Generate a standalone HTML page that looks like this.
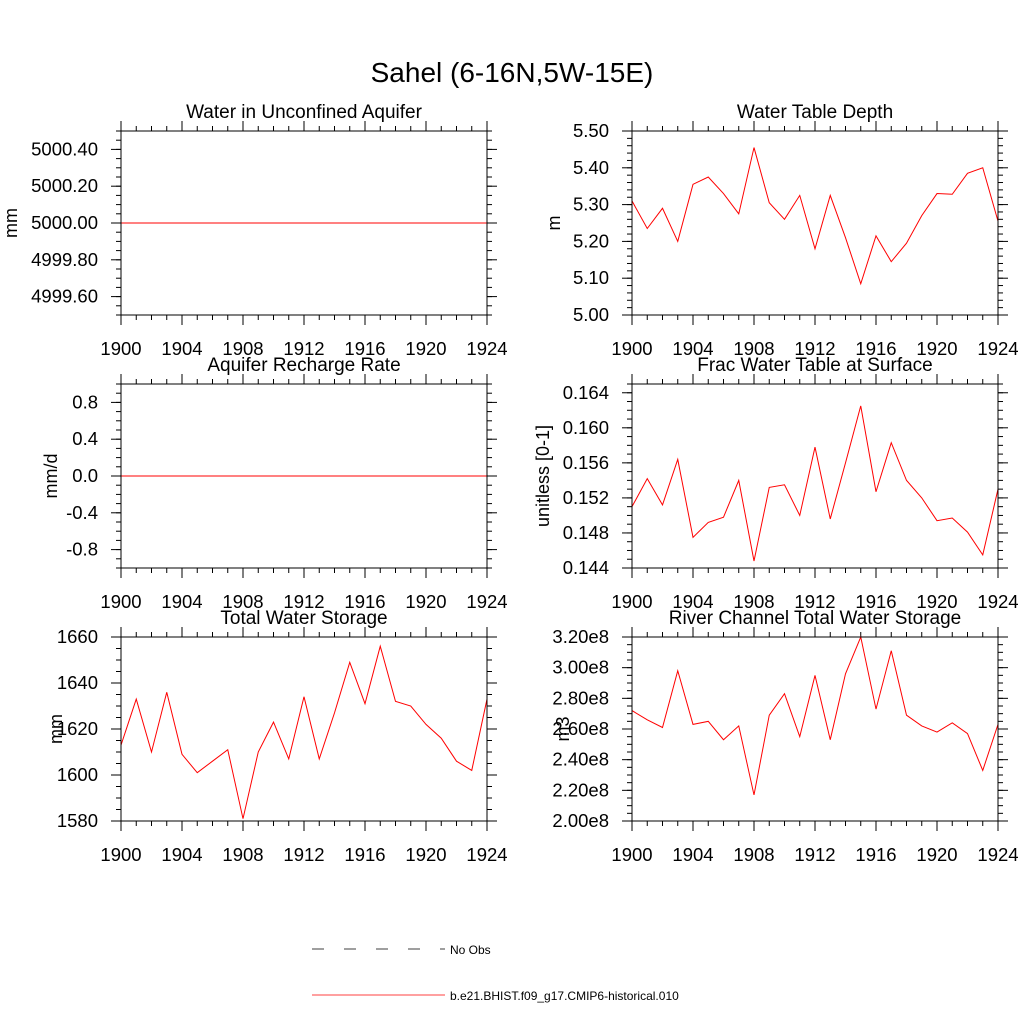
<!DOCTYPE html>
<html><head><meta charset="utf-8"><style>
body{margin:0;background:#fff}
svg{font-family:"Liberation Sans",sans-serif}
</style></head><body>
<svg id="chart" width="1024" height="1024" viewBox="0 0 1024 1024" xmlns="http://www.w3.org/2000/svg">
<rect width="1024" height="1024" fill="#fff"/>
<text x="512" y="82" font-size="28" text-anchor="middle">Sahel (6-16N,5W-15E)</text>
<g>
<line x1="312" y1="949" x2="445" y2="949" stroke="#000" stroke-width="0.8" stroke-dasharray="12,20"/>
<text x="450" y="954" font-size="12">No Obs</text>
<line x1="312" y1="995" x2="445" y2="995" stroke="#f00" stroke-width="0.8"/>
<text x="450" y="1000" font-size="12">b.e21.BHIST.f09_g17.CMIP6-historical.010</text>
</g>
</svg>
<script>
const years = [1900,1901,1902,1903,1904,1905,1906,1907,1908,1909,1910,1911,1912,1913,1914,1915,1916,1917,1918,1919,1920,1921,1922,1923,1924];
const xTicks = [1900,1904,1908,1912,1916,1920,1924];
const aquiferValues = [5000,5000,5000,5000,5000,5000,5000,5000,5000,5000,5000,5000,5000,5000,5000,5000,5000,5000,5000,5000,5000,5000,5000,5000,5000];
const rechargeValues = [0,0,0,0,0,0,0,0,0,0,0,0,0,0,0,0,0,0,0,0,0,0,0,0,0];
const wtdValues = [5.31,5.235,5.29,5.20,5.355,5.375,5.33,5.275,5.455,5.305,5.26,5.325,5.18,5.325,5.21,5.085,5.215,5.145,5.195,5.27,5.33,5.328,5.385,5.40,5.255];
const fracValues = [0.1510,0.1542,0.1512,0.1564,0.1475,0.1492,0.1498,0.1540,0.1448,0.1532,0.1535,0.1500,0.1578,0.1496,0.1560,0.1625,0.1527,0.1583,0.1540,0.1520,0.1494,0.1497,0.1481,0.1455,0.1530];
const twsValues = [1613,1633,1610,1636,1609,1601,1606,1611,1581,1610,1623,1607,1634,1607,1627,1649,1631,1656,1632,1630,1622,1616,1606,1602,1633];
const riverValues = [2.72,2.66,2.61,2.98,2.63,2.65,2.53,2.62,2.17,2.69,2.83,2.55,2.95,2.53,2.96,3.20,2.73,3.11,2.69,2.62,2.58,2.64,2.57,2.33,2.63];
const aquiferTicks = ["4999.60","4999.80","5000.00","5000.20","5000.40"];
const rechargeTicks = ["-0.8","-0.4","0.0","0.4","0.8"];
const wtdTicks = ["5.00","5.10","5.20","5.30","5.40","5.50"];
const fracTicks = ["0.144","0.148","0.152","0.156","0.160","0.164"];
const twsTicks = ["1580","1600","1620","1640","1660"];
const riverTicks = ["2.00e8","2.20e8","2.40e8","2.60e8","2.80e8","3.00e8","3.20e8"];

const svg = document.getElementById('chart');
const NS = 'http://www.w3.org/2000/svg';
function mk(tag, attrs, parent){const e=document.createElementNS(NS,tag);for(const k in attrs)e.setAttribute(k,attrs[k]);(parent||svg).appendChild(e);return e;}

const panels = [
 {id:'aquifer-water',title:'Water in Unconfined Aquifer',ylab:'mm',x0:121,y0:131,yl:17,vals:aquiferValues,ticks:aquiferTicks,ymin:4999.5,ymax:5000.5,minor:0.05},
 {id:'water-table-depth',title:'Water Table Depth',ylab:'m',x0:632,y0:131,yl:560,vals:wtdValues,ticks:wtdTicks,ymin:5.0,ymax:5.5,minor:0.02},
 {id:'recharge-rate',title:'Aquifer Recharge Rate',ylab:'mm/d',x0:121,y0:384,yl:57,vals:rechargeValues,ticks:rechargeTicks,ymin:-1,ymax:1,minor:0.1},
 {id:'frac-water-table',title:'Frac Water Table at Surface',ylab:'unitless [0-1]',x0:632,y0:384,yl:549,vals:fracValues,ticks:fracTicks,ymin:0.144,ymax:0.165,minor:0.001},
 {id:'total-water-storage',title:'Total Water Storage',ylab:'mm',x0:121,y0:637,yl:62,vals:twsValues,ticks:twsTicks,ymin:1580,ymax:1660,minor:5},
 {id:'river-storage',title:'River Channel Total Water Storage',ylab:'m3',x0:632,y0:637,yl:569,vals:riverValues,ticks:riverTicks,ymin:2.0,ymax:3.2,minor:0.05,parse:s=>parseFloat(s)/1e8}
];
const W=366,H=184;
panels.forEach(p=>{
  const parse=p.parse||(s=>parseFloat(s));
  const g=mk('g',{});
  
  
  const xs=v=>p.x0+(v-1900)/24*W;
  const ys=v=>p.y0+H-(v-p.ymin)/(p.ymax-p.ymin)*H;
  const t=mk('text',{x:p.x0+W/2,y:p.y0-13,'font-size':19,'text-anchor':'middle'},g);
  t.textContent=p.title;
  
  
  const yl=mk('text',{x:0,y:0,'font-size':18,'text-anchor':'middle',transform:`translate(${p.yl} ${p.y0+H/2}) rotate(-90)`},g);
  yl.textContent=p.ylab;
  
  
  const nmin=Math.round((p.ymax-p.ymin)/p.minor);
  for(let i=0;i<=nmin;i++){const v=p.ymin+i*p.minor;const y=ys(v);
    mk('line',{x1:p.x0-5,y1:y,x2:p.x0,y2:y,stroke:'#000','stroke-width':1},g);
    mk('line',{x1:p.x0+W,y1:y,x2:p.x0+W+5,y2:y,stroke:'#000','stroke-width':1},g);}
  p.ticks.forEach(s=>{const v=parse(s);const y=ys(v);
    mk('line',{x1:p.x0-10,y1:y,x2:p.x0,y2:y,stroke:'#000','stroke-width':1},g);
    mk('line',{x1:p.x0+W,y1:y,x2:p.x0+W+10,y2:y,stroke:'#000','stroke-width':1},g);
    const tl=mk('text',{x:p.x0-23,y:y+6,'font-size':18.5,'text-anchor':'end'},g);
    tl.textContent=s;
    
    
  });
  years.forEach(yr=>{const x=xs(yr);
    mk('line',{x1:x,y1:p.y0-5,x2:x,y2:p.y0,stroke:'#000','stroke-width':1},g);
    mk('line',{x1:x,y1:p.y0+H,x2:x,y2:p.y0+H+5,stroke:'#000','stroke-width':1},g);});
  xTicks.forEach(yr=>{const x=xs(yr);
    mk('line',{x1:x,y1:p.y0-10,x2:x,y2:p.y0,stroke:'#000','stroke-width':1},g);
    mk('line',{x1:x,y1:p.y0+H,x2:x,y2:p.y0+H+10,stroke:'#000','stroke-width':1},g);
    const tl=mk('text',{x:x,y:p.y0+H+40,'font-size':18.5,'text-anchor':'middle'},g);
    tl.textContent=yr;
    
    
  });
  const line=mk('polyline',{points:years.map((yr,i)=>xs(yr)+','+ys(p.vals[i])).join(' '),fill:'none',stroke:'#f00','stroke-width':1},g);
  
  
  const fr=mk('rect',{x:p.x0,y:p.y0,width:W,height:H,fill:'none',stroke:'#000','stroke-width':1},g);
  
  
});
</script>
</body></html>
